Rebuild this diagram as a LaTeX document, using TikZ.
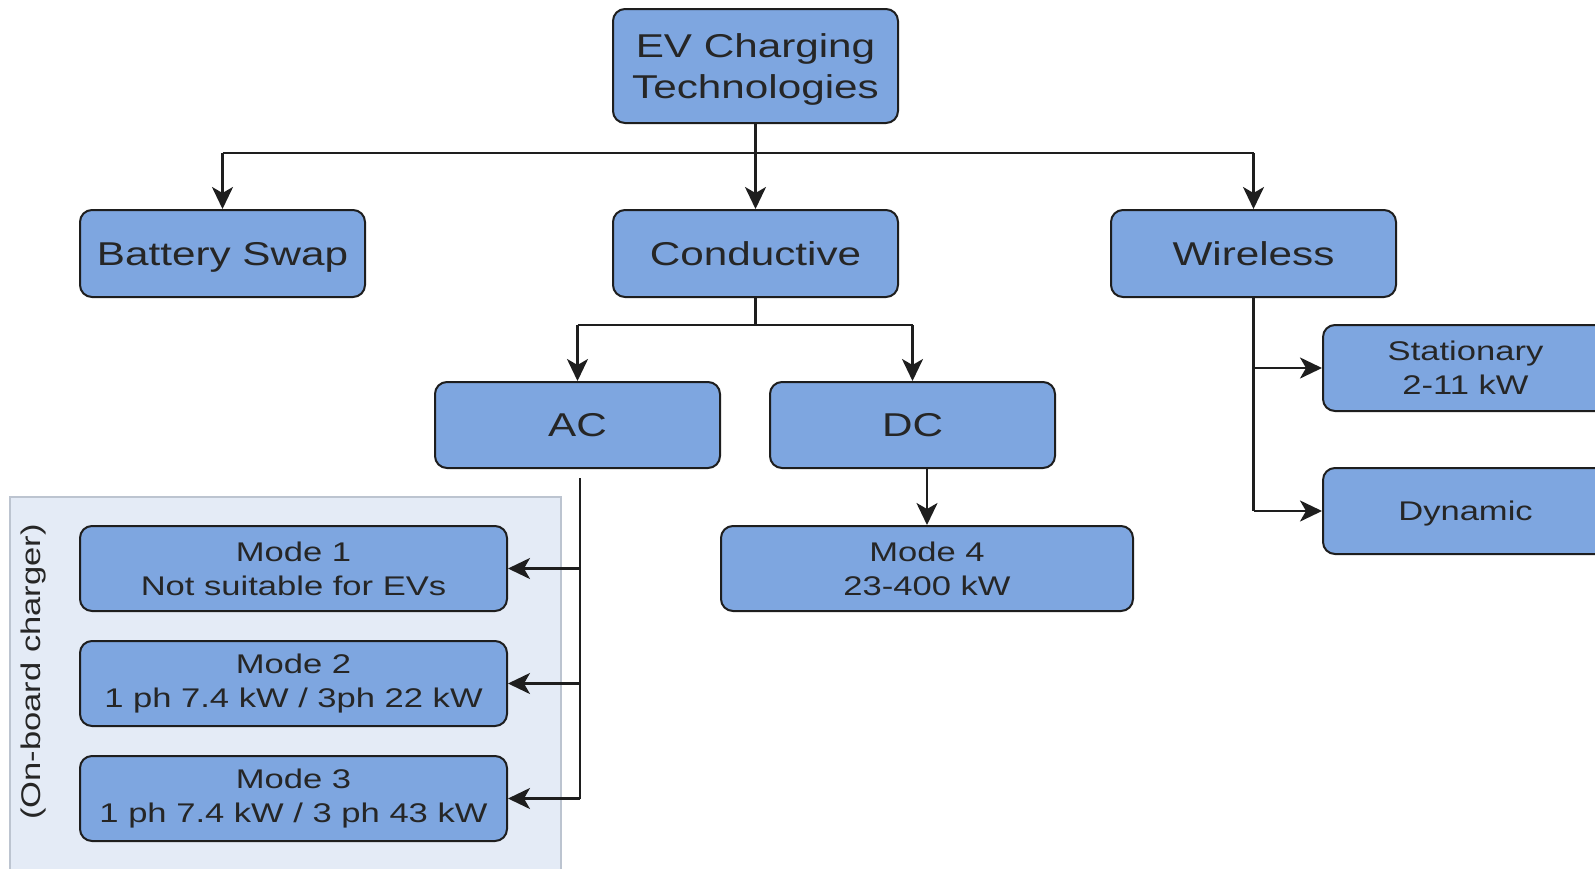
\documentclass[tikz,border=0pt]{standalone}
\usepackage{fontspec}
\setmainfont{Liberation Sans}[FakeStretch=1.28]
\usetikzlibrary{arrows.meta}
\definecolor{boxfill}{HTML}{7EA6E0}
\definecolor{boxline}{HTML}{1E1E1E}
\definecolor{txt}{HTML}{262626}
\definecolor{panelfill}{HTML}{E4EBF6}
\definecolor{panelline}{HTML}{BCC4D0}
\tikzset{
  box/.style={draw=boxline, line width=2pt, fill=boxfill, rounded corners=12pt,
    inner sep=0pt, align=center, text=txt, minimum width=285pt},
  bigbox/.style={box, minimum height=87pt, font=\fontsize{33}{39}\selectfont},
  smallbox/.style={box, minimum height=85pt, font=\fontsize{27}{34}\selectfont},
  flat/.style={text depth=0pt},
  conn/.style={draw=boxline, line width=2.5pt},
  arr/.style={conn, -{Stealth[length=22pt 0,width=21pt 0,inset=6pt]}},
}
\begin{document}
\begin{tikzpicture}[x=1pt,y=-1pt]
\useasboundingbox (0,0) rectangle (1595,868);
\clip (0,0) rectangle (1595,868);
\fill[white] (0,0) rectangle (1595,868);
% panel
\node[draw=panelline, line width=1.5pt, fill=panelfill, minimum width=551pt, minimum height=390pt, inner sep=0pt, anchor=north west] (panel) at (9,496) {};
\node[rotate=90, text=txt, font=\fontsize{27}{32}\selectfont] (lbl) at (34,672) {(On-board charger)};
% nodes
\node[bigbox, minimum height=114pt, font=\fontsize{33}{41}\selectfont, flat] (root) at (755.5,66) {EV Charging\\Technologies};
\node[bigbox, flat] (battery) at (222.5,253.5) {Battery Swap};
\node[bigbox] (cond) at (755.5,253.5) {Conductive};
\node[bigbox] (wireless) at (1253.5,253.5) {Wireless};
\node[bigbox, minimum height=86pt] (ac) at (577.5,425) {AC};
\node[bigbox, minimum height=86pt] (dc) at (912.5,425) {DC};
\node[smallbox, minimum width=412pt] (mode4) at (927,568.5) {Mode 4\\23-400 kW};
\node[smallbox, minimum width=427pt] (mode1) at (293.5,568.5) {Mode 1\\Not suitable for EVs};
\node[smallbox, minimum width=427pt] (mode2) at (293.5,683.5) {Mode 2\\1 ph 7.4 kW / 3ph 22 kW};
\node[smallbox, minimum width=427pt] (mode3) at (293.5,798.5) {Mode 3\\1 ph 7.4 kW / 3 ph 43 kW};
\node[smallbox, minimum height=86pt] (stat) at (1465.5,368) {Stationary\\2-11 kW};
\node[smallbox, minimum height=86pt, flat] (dyn) at (1465.5,511) {Dynamic};
% connectors
\coordinate (bus) at (755.5,153);
\coordinate (cj) at (755.5,325);
\coordinate (acs) at (580,478);
\draw[conn] (bus -| battery) -- (bus -| wireless);
\draw[arr] (root.south) -- (cond.north);
\draw[arr] (bus -| battery) -- (battery.north);
\draw[arr] (bus -| wireless) -- (wireless.north);
\draw[conn] (cond.south) -- (cj);
\draw[conn] (cj -| ac) -- (cj -| dc);
\draw[arr] (cj -| ac) -- (ac.north);
\draw[arr] (cj -| dc) -- (dc.north);
\draw[arr] (mode4.north |- dc.south) -- (mode4.north);
\draw[conn] (acs) -- (acs |- mode3);
\draw[arr] (acs |- mode1) -- (mode1.east);
\draw[arr] (acs |- mode2) -- (mode2.east);
\draw[arr] (acs |- mode3) -- (mode3.east);
\draw[conn] (wireless.south) -- (wireless.south |- dyn);
\draw[arr] (wireless.south |- stat) -- (stat.west);
\draw[arr] (wireless.south |- dyn) -- (dyn.west);
\end{tikzpicture}
\end{document}
